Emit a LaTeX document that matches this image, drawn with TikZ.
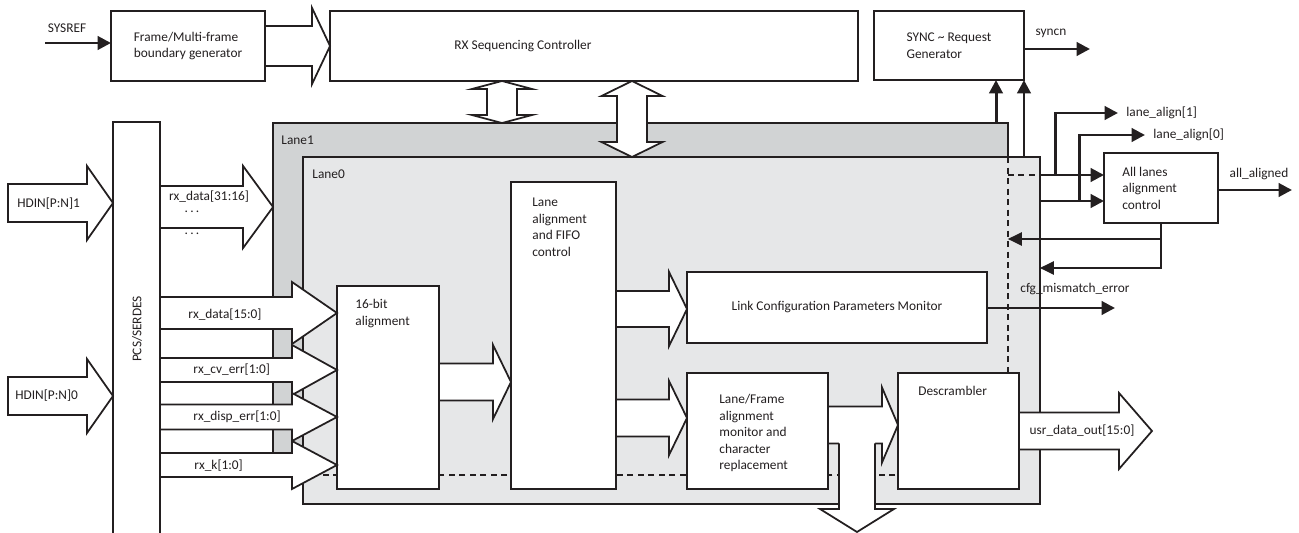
\documentclass[tikz,border=0pt]{standalone}
\usepackage{fontspec}
\setmainfont{Carlito}
\usetikzlibrary{arrows.meta,calc}
\definecolor{linec}{HTML}{231F20}
\definecolor{laneonegray}{HTML}{D1D3D4}
\definecolor{lanezerogray}{HTML}{E6E7E8}
\newcommand{\lbl}{\fontsize{7.6}{9.4}\selectfont}
% fat arrow to the right: tail, tip, half body, half head, head length
\newcommand{\fatarrow}[5]{%
  \filldraw[fatarr] ($(#1 |- #2)+(0,#3)$) -- ($(#2)+(-#5,#3)$) -- ($(#2)+(-#5,#4)$) -- (#2)
    -- ($(#2)+(-#5,-#4)$) -- ($(#2)+(-#5,-#3)$) -- ($(#1 |- #2)+(0,-#3)$) -- cycle;}
% vertical double fat arrow: top tip, bottom tip, half shaft, half head, head length
\newcommand{\dblarrow}[5]{%
  \filldraw[fatarr] (#1) -- ($(#1)+(#4,#5)$) -- ($(#1)+(#3,#5)$) -- ($(#2)+(#3,-#5)$) -- ($(#2)+(#4,-#5)$) -- (#2)
    -- ($(#2)+(-#4,-#5)$) -- ($(#2)+(-#3,-#5)$) -- ($(#1)+(-#3,#5)$) -- ($(#1)+(-#4,#5)$) -- cycle;}

\begin{document}
\begin{tikzpicture}[x=0.02cm, y=-0.02cm,
    blk/.style={draw=linec, fill=white, line width=1pt, inner sep=0pt, outer sep=0pt, font=\lbl, text=linec, align=left},
    lane/.style={draw=linec, line width=1pt, inner sep=0pt, outer sep=0pt},
    txt/.style={font=\lbl, text=linec, inner sep=0pt, align=left},
    fatarr/.style={draw=linec, fill=white, line width=1pt},
    sig/.style={draw=linec, line width=1.7pt, -{Triangle[length=0.27cm, width=0.27cm]}},
    fbk/.style={draw=linec, line width=0.8pt, -{Triangle[length=0.28cm, width=0.27cm]}},
    hid/.style={draw=linec, line width=1pt, dash pattern=on 0.12cm off 0.09cm}]
\useasboundingbox (0,0) rectangle (1299,533);

% lanes
\node[lane, fill=laneonegray, minimum width=14.7cm, minimum height=7.04cm] (lane1) at (640.5,299) {};
\node[lane, fill=lanezerogray, minimum width=14.74cm, minimum height=6.94cm] (lane0) at (671.5,330.5) {};
\node[txt, anchor=west] (lane1lbl) at ([shift={(8,17)}]lane1.north west) {Lane1};
\node[txt, anchor=west] (lane0lbl) at ([shift={(9,17)}]lane0.north west) {Lane0};
\draw[hid] (lane1.north east |- lane0.north) -- (lane1.south east) -- (lane1.south west -| lane0.west);
\draw[hid] (lane1.east |- 0,175) -- (lane0.east |- 0,175);

% serdes and inputs
\node[blk, minimum width=0.94cm, minimum height=8.46cm] (pcs) at (136.5,333.5) {};
\node[txt, rotate=90] (pcslbl) at (137,329) {PCS/SERDES};
\coordinate (hdtail) at (8,300);
\coordinate (hdtip1) at (pcs.west |- 0,203);
\coordinate (hdtip0) at (pcs.west |- 0,396);
\fatarrow{hdtail}{hdtip1}{19}{37}{26}
\fatarrow{hdtail}{hdtip0}{19}{37}{26}
\node[txt, anchor=west] (hdin1lbl) at (17,204) {HDIN[P:N]1};
\node[txt, anchor=west] (hdin0lbl) at (15,396) {HDIN[P:N]0};

\coordinate (rxhi) at (lane1.west |- 0,207);
\fatarrow{pcs.east}{rxhi}{21}{41}{30}
\node[txt] (rxhilbl) at (209,197) {rx\_data[31:16]};
\node[txt] (dotsa) at (192,212) {.\,.\,.};
\node[txt] (dotsb) at (192,234) {.\,.\,.};

% lane0 blocks
\node[blk, minimum width=2.04cm, minimum height=4.06cm] (bit16) at (388,387.5) {};
\node[txt, anchor=north west] (bit16lbl) at ([shift={(18,13)}]bit16.north west) {16-bit\\alignment};
\node[blk, minimum width=2.1cm, minimum height=6.14cm] (fifo) at (563.5,335.5) {};
\node[txt, anchor=north west] (fifolbl) at ([shift={(21,16)}]fifo.north west) {Lane\\alignment\\and FIFO\\control};
\node[blk, minimum width=6cm, minimum height=1.42cm] (link) at (837,307.5) {Link Configuration Parameters Monitor};
\node[blk, minimum width=2.82cm, minimum height=2.32cm] (lframe) at (757.5,431) {};
\node[txt, anchor=north west] (lframelbl) at ([shift={(32,21)}]lframe.north west) {Lane/Frame\\alignment\\monitor and\\character\\replacement};
\node[blk, minimum width=2.42cm, minimum height=2.32cm] (descr) at (958.5,431) {};
\node[txt, anchor=north west] (descrlbl) at ([shift={(20,13)}]descr.north west) {Descrambler};

% serdes to 16-bit alignment
\coordinate (rxa) at (bit16.west |- 0,313);
\coordinate (rxb) at (bit16.west |- 0,370);
\coordinate (rxc) at (bit16.west |- 0,417);
\coordinate (rxd) at (bit16.west |- 0,465);
\fatarrow{pcs.east}{rxa}{16}{31}{45}
\fatarrow{pcs.east}{rxb}{12}{25}{45}
\fatarrow{pcs.east}{rxc}{12.5}{24}{45}
\fatarrow{pcs.east}{rxd}{12}{24}{45}
\node[txt, anchor=west] (rxalbl) at (188,315) {rx\_data[15:0]};
\node[txt, anchor=west] (rxblbl) at (193,370) {rx\_cv\_err[1:0]};
\node[txt, anchor=west] (rxclbl) at (193,417) {rx\_disp\_err[1:0]};
\node[txt, anchor=west] (rxdlbl) at (194,466) {rx\_k[1:0]};

% data path
\coordinate (fifoin) at (fifo.west |- 0,382);
\coordinate (linkin) at (link.west |- 0,309);
\coordinate (lfin) at (lframe.west |- 0,418);
\coordinate (dsin) at (descr.west |- 0,425);
\fatarrow{bit16.east}{fifoin}{18.5}{37}{18}
\fatarrow{fifo.east}{linkin}{18}{37}{18}
\fatarrow{fifo.east}{lfin}{18.5}{37}{18}
\fatarrow{lframe.east}{dsin}{18.5}{37.5}{16}
\coordinate (dnin) at (857,443.5);
\coordinate (dnout) at (857,532);
\fill[white] ($(dnin)+(-18,-3)$) -- ($(dnout)+(-18,-23)$) -- ($(dnout)+(-37,-23)$) -- (dnout)
  -- ($(dnout)+(37,-23)$) -- ($(dnout)+(18,-23)$) -- ($(dnin)+(18,-3)$) -- cycle;
\draw[fatarr, fill=none] (dnin) ++(-18,0) -- ($(dnout)+(-18,-23)$) -- ($(dnout)+(-37,-23)$) -- (dnout)
  -- ($(dnout)+(37,-23)$) -- ($(dnout)+(18,-23)$) -- ($(dnin)+(18,0)$);
\coordinate (usrout) at (1152,431);
\fatarrow{descr.east}{usrout}{18.5}{38}{33}
\node[txt] (usrlbl) at (1082,431) {usr\_data\_out[15:0]};

% top row
\node[blk, minimum width=3.08cm, minimum height=1.4cm] (gen) at (188,46) {Frame/Multi-frame\\boundary generator};
\node[blk, minimum width=10.56cm, minimum height=1.4cm] (rxseq) at (594,46) {};
\node[txt] (rxseqlbl) at (523,46) {RX Sequencing Controller};
\node[blk, minimum width=3cm, minimum height=1.38cm] (sync) at (949,45.5) {SYNC \textasciitilde{} Request\\Generator};
\fatarrow{gen.east}{rxseq.west}{20}{38}{18}
\coordinate (dat) at (rxseq.south -| 502,0);
\coordinate (dab) at (lane1.north -| 502,0);
\coordinate (dbt) at (rxseq.south -| 632,0);
\coordinate (dbb) at (lane0.north -| 632,0);
\dblarrow{dat}{dab}{15}{30}{8}
\dblarrow{dbt}{dbb}{15}{30.5}{15}

\coordinate (sysref) at (45,43);
\draw[sig] (sysref) -- (gen.west |- sysref);
\node[txt] (sysreflbl) at (67,28) {SYSREF};
\coordinate (syncout) at (1090,49);
\draw[sig] (sync.east |- syncout) -- (syncout);
\node[txt] (syncnlbl) at (1051,33) {syncn};
\draw[sig] (lane1.north -| 996,0) -- (sync.south -| 996,0);
\draw[sig] (lane0.north -| sync.east) -- (sync.south east);

% all lanes alignment
\node[blk, minimum width=2.28cm, minimum height=1.4cm] (allal) at (1161,188) {};
\node[txt, anchor=west] (allallbl) at ([shift={(18,0)}]allal.west) {All lanes\\alignment\\control};
\coordinate (l1out) at (lane0.east |- 0,175);
\coordinate (l0out) at (lane0.east |- 0,201);
\draw[sig] (l1out) -- (allal.west |- l1out);
\draw[sig] (l0out) -- (allal.west |- l0out);
\coordinate (la1) at (1118,113);
\coordinate (la0) at (1145,135);
\draw[sig] ($(l1out)+(16,0)$) |- (la1);
\draw[sig] ($(l0out)+(40,0)$) |- (la0);
\node[txt, anchor=west] (la1lbl) at ([xshift=0.16cm]la1) {lane\_align[1]};
\node[txt, anchor=west] (la0lbl) at ([xshift=0.16cm]la0) {lane\_align[0]};
\coordinate (allout) at (1292,190);
\draw[sig] (allal.east |- allout) -- (allout);
\node[txt] (alloutlbl) at (1259,174) {all\_aligned};
\draw[fbk] (allal.south) |- (lane1.east |- 0,239);
\draw[fbk] (allal.south) |- (lane0.east |- 0,268);
\coordinate (cfgout) at (1115,308);
\draw[sig] (link.east |- cfgout) -- (cfgout);
\node[txt] (cfglbl) at (1075,289) {cfg\_mismatch\_error};
\end{tikzpicture}
\end{document}
